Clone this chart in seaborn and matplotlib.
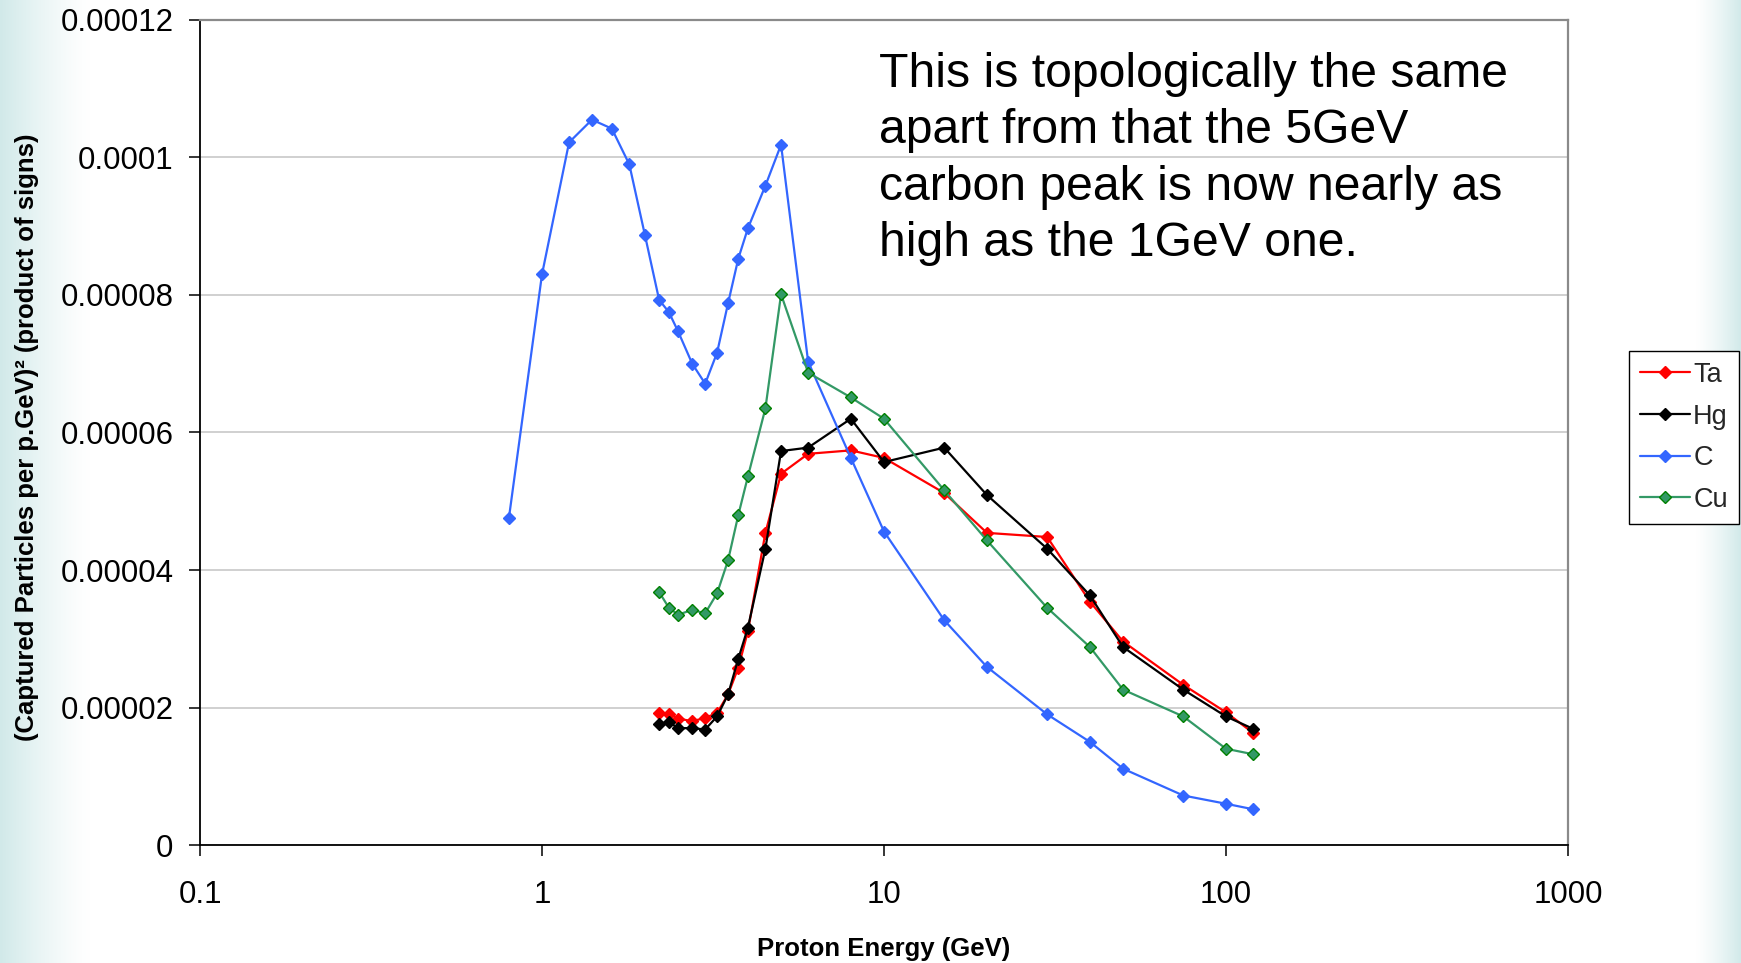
import numpy as np
import pandas as pd
import matplotlib
matplotlib.use("Agg")
import matplotlib.pyplot as plt
from matplotlib.ticker import FixedLocator, FuncFormatter, NullLocator
from matplotlib.lines import Line2D
import seaborn as sns

# ---------------- data ----------------
energy_c = [0.8, 1.0, 1.2, 1.4, 1.6, 1.8, 2.0, 2.2, 2.35, 2.5, 2.75, 3.0, 3.25, 3.5,
            3.75, 4.0, 4.5, 5, 6, 8, 10, 15, 20, 30, 40, 50, 75, 100, 120]
c_vals = [4.75e-5, 8.30e-5, 1.022e-4, 1.055e-4, 1.042e-4, 9.90e-5, 8.87e-5, 7.93e-5,
          7.75e-5, 7.47e-5, 7.00e-5, 6.71e-5, 7.16e-5, 7.88e-5, 8.53e-5, 8.97e-5,
          9.59e-5, 1.0186e-4, 7.03e-5, 5.63e-5, 4.56e-5, 3.27e-5, 2.59e-5, 1.90e-5,
          1.50e-5, 1.11e-5, 7.2e-6, 6.0e-6, 5.2e-6]

energy = [2.2, 2.35, 2.5, 2.75, 3.0, 3.25, 3.5, 3.75, 4.0, 4.5, 5, 6, 8, 10, 15,
          20, 30, 40, 50, 75, 100, 120]
ta_vals = [1.92e-5, 1.91e-5, 1.84e-5, 1.80e-5, 1.85e-5, 1.92e-5, 2.19e-5, 2.58e-5,
           3.11e-5, 4.54e-5, 5.40e-5, 5.69e-5, 5.74e-5, 5.63e-5, 5.12e-5, 4.54e-5,
           4.48e-5, 3.54e-5, 2.96e-5, 2.33e-5, 1.93e-5, 1.63e-5]
hg_vals = [1.76e-5, 1.79e-5, 1.70e-5, 1.70e-5, 1.68e-5, 1.87e-5, 2.19e-5, 2.71e-5,
           3.16e-5, 4.31e-5, 5.73e-5, 5.78e-5, 6.20e-5, 5.57e-5, 5.78e-5, 5.09e-5,
           4.31e-5, 3.63e-5, 2.88e-5, 2.26e-5, 1.87e-5, 1.69e-5]
cu_vals = [3.68e-5, 3.45e-5, 3.35e-5, 3.42e-5, 3.37e-5, 3.66e-5, 4.14e-5, 4.80e-5,
           5.36e-5, 6.35e-5, 8.01e-5, 6.87e-5, 6.51e-5, 6.20e-5, 5.16e-5, 4.43e-5,
           3.45e-5, 2.88e-5, 2.26e-5, 1.87e-5, 1.40e-5, 1.32e-5]

series_names = ["Ta", "Hg", "C", "Cu"]
x_ticks = [0.1, 1, 10, 100, 1000]
y_ticks = [0, 0.00002, 0.00004, 0.00006, 0.00008, 0.0001, 0.00012]

x_label = "Proton Energy (GeV)"
y_label = "(Captured Particles per p.GeV)\u00b2 (product of signs)"
note = ("This is topologically the same\napart from that the 5GeV\n"
        "carbon peak is now nearly as\nhigh as the 1GeV one.")

# ---------------- styling ----------------
sns.set_theme(style="white")
plt.rcParams["font.family"] = ["Liberation Sans", "DejaVu Sans"]

line_colors = {"Ta": "#ff0000", "Hg": "#000000", "C": "#3366ff", "Cu": "#339966"}
face_colors = {"Ta": "#ff0000", "Hg": "#000000", "C": "#3366ff", "Cu": "#339966"}
edge_colors = {"Ta": "#ff0000", "Hg": "#000000", "C": "#3366ff", "Cu": "#008000"}

W, H = 1741, 963
fig = plt.figure(figsize=(W / 100, H / 100), dpi=100)
fig.patch.set_facecolor("white")

# background: light teal fade at left and right edges
bg = fig.add_axes([0, 0, 1, 1], zorder=-10)
bg.axis("off")
cols = np.arange(W)
t_left = np.clip(1 - cols / 90.0, 0, 1) ** 1.3
t_right = np.clip((cols - 1695) / 46.0, 0, 1) ** 1.3
t = np.maximum(t_left, t_right)
teal = np.array([0.82, 0.915, 0.915])
white = np.array([1.0, 1.0, 1.0])
grad = white[None, :] * (1 - t[:, None]) + teal[None, :] * t[:, None]
bg.imshow(grad[None, :, :], aspect="auto", extent=[0, 1, 0, 1])
bg.set_xlim(0, 1)
bg.set_ylim(0, 1)

L, R, T, B = 200, 1568, 20, 845
ax = fig.add_axes([L / W, 1 - B / H, (R - L) / W, (B - T) / H], zorder=1)
ax.set_facecolor("white")

data = {
    "Ta": (energy, ta_vals),
    "Hg": (energy, hg_vals),
    "C": (energy_c, c_vals),
    "Cu": (energy, cu_vals),
}
for name in series_names:
    xs, ys = data[name]
    df = pd.DataFrame({"energy": xs, "value": ys})
    sns.lineplot(data=df, x="energy", y="value", ax=ax, sort=False,
                 color=line_colors[name], linewidth=1.6, marker="D",
                 markersize=6.5, markerfacecolor=face_colors[name],
                 markeredgecolor=edge_colors[name], markeredgewidth=1.0,
                 label=name, legend=False)

ax.set_xscale("log")
ax.set_xlim(0.1, 1000)
ax.set_ylim(0, 0.00012)
ax.xaxis.set_major_locator(FixedLocator(x_ticks))
ax.xaxis.set_minor_locator(NullLocator())
ax.xaxis.set_major_formatter(FuncFormatter(lambda v, p: f"{v:g}"))
ax.yaxis.set_major_locator(FixedLocator(y_ticks))


def yfmt(v, p):
    s = f"{v:.5f}".rstrip("0").rstrip(".")
    return s if s else "0"


ax.yaxis.set_major_formatter(FuncFormatter(yfmt))

ax.grid(axis="y", color="#c8c8c8", linewidth=1.2)
ax.grid(axis="x", visible=False)
ax.set_axisbelow(True)

for side in ["left", "bottom"]:
    ax.spines[side].set_color("black")
    ax.spines[side].set_linewidth(1.3)
for side in ["top", "right"]:
    ax.spines[side].set_color("#8a8a8a")
    ax.spines[side].set_linewidth(1.6)

ax.tick_params(axis="both", which="major", direction="out", length=8, width=1.1,
               color="black", labelsize=22.5, labelcolor="black", left=True,
               bottom=True)
ax.tick_params(axis="x", pad=17)
ax.tick_params(axis="y", pad=11)

ax.set_xlabel(x_label, fontsize=18.5, fontweight="bold", color="black")
ax.set_ylabel(y_label, fontsize=18.5, fontweight="bold", color="black")
ax.xaxis.set_label_coords(0.5, -0.111)
ax.yaxis.set_label_coords(-0.118, 0.494)

# annotation text
fig.text(879 / W, 1 - 52 / H, note, fontsize=34.7, color="black", ha="left",
         va="top", linespacing=1.325)

# legend
handles = [Line2D([0], [0], color=line_colors[n], linewidth=1.6, marker="D",
                  markersize=6.5, markerfacecolor=face_colors[n],
                  markeredgecolor=edge_colors[n], markeredgewidth=1.0)
           for n in series_names]
leg = fig.legend(handles, series_names, loc="upper left",
                 bbox_to_anchor=(1629 / W, 1 - 351 / H), borderaxespad=0,
                 fontsize=19.5, frameon=True, fancybox=False, framealpha=1,
                 edgecolor="black", facecolor="white", handlelength=1.85,
                 handletextpad=0.12, labelspacing=0.58, borderpad=0.4)
leg.get_frame().set_linewidth(1.0)

fig.savefig("out.png", dpi=100, facecolor=fig.get_facecolor())
